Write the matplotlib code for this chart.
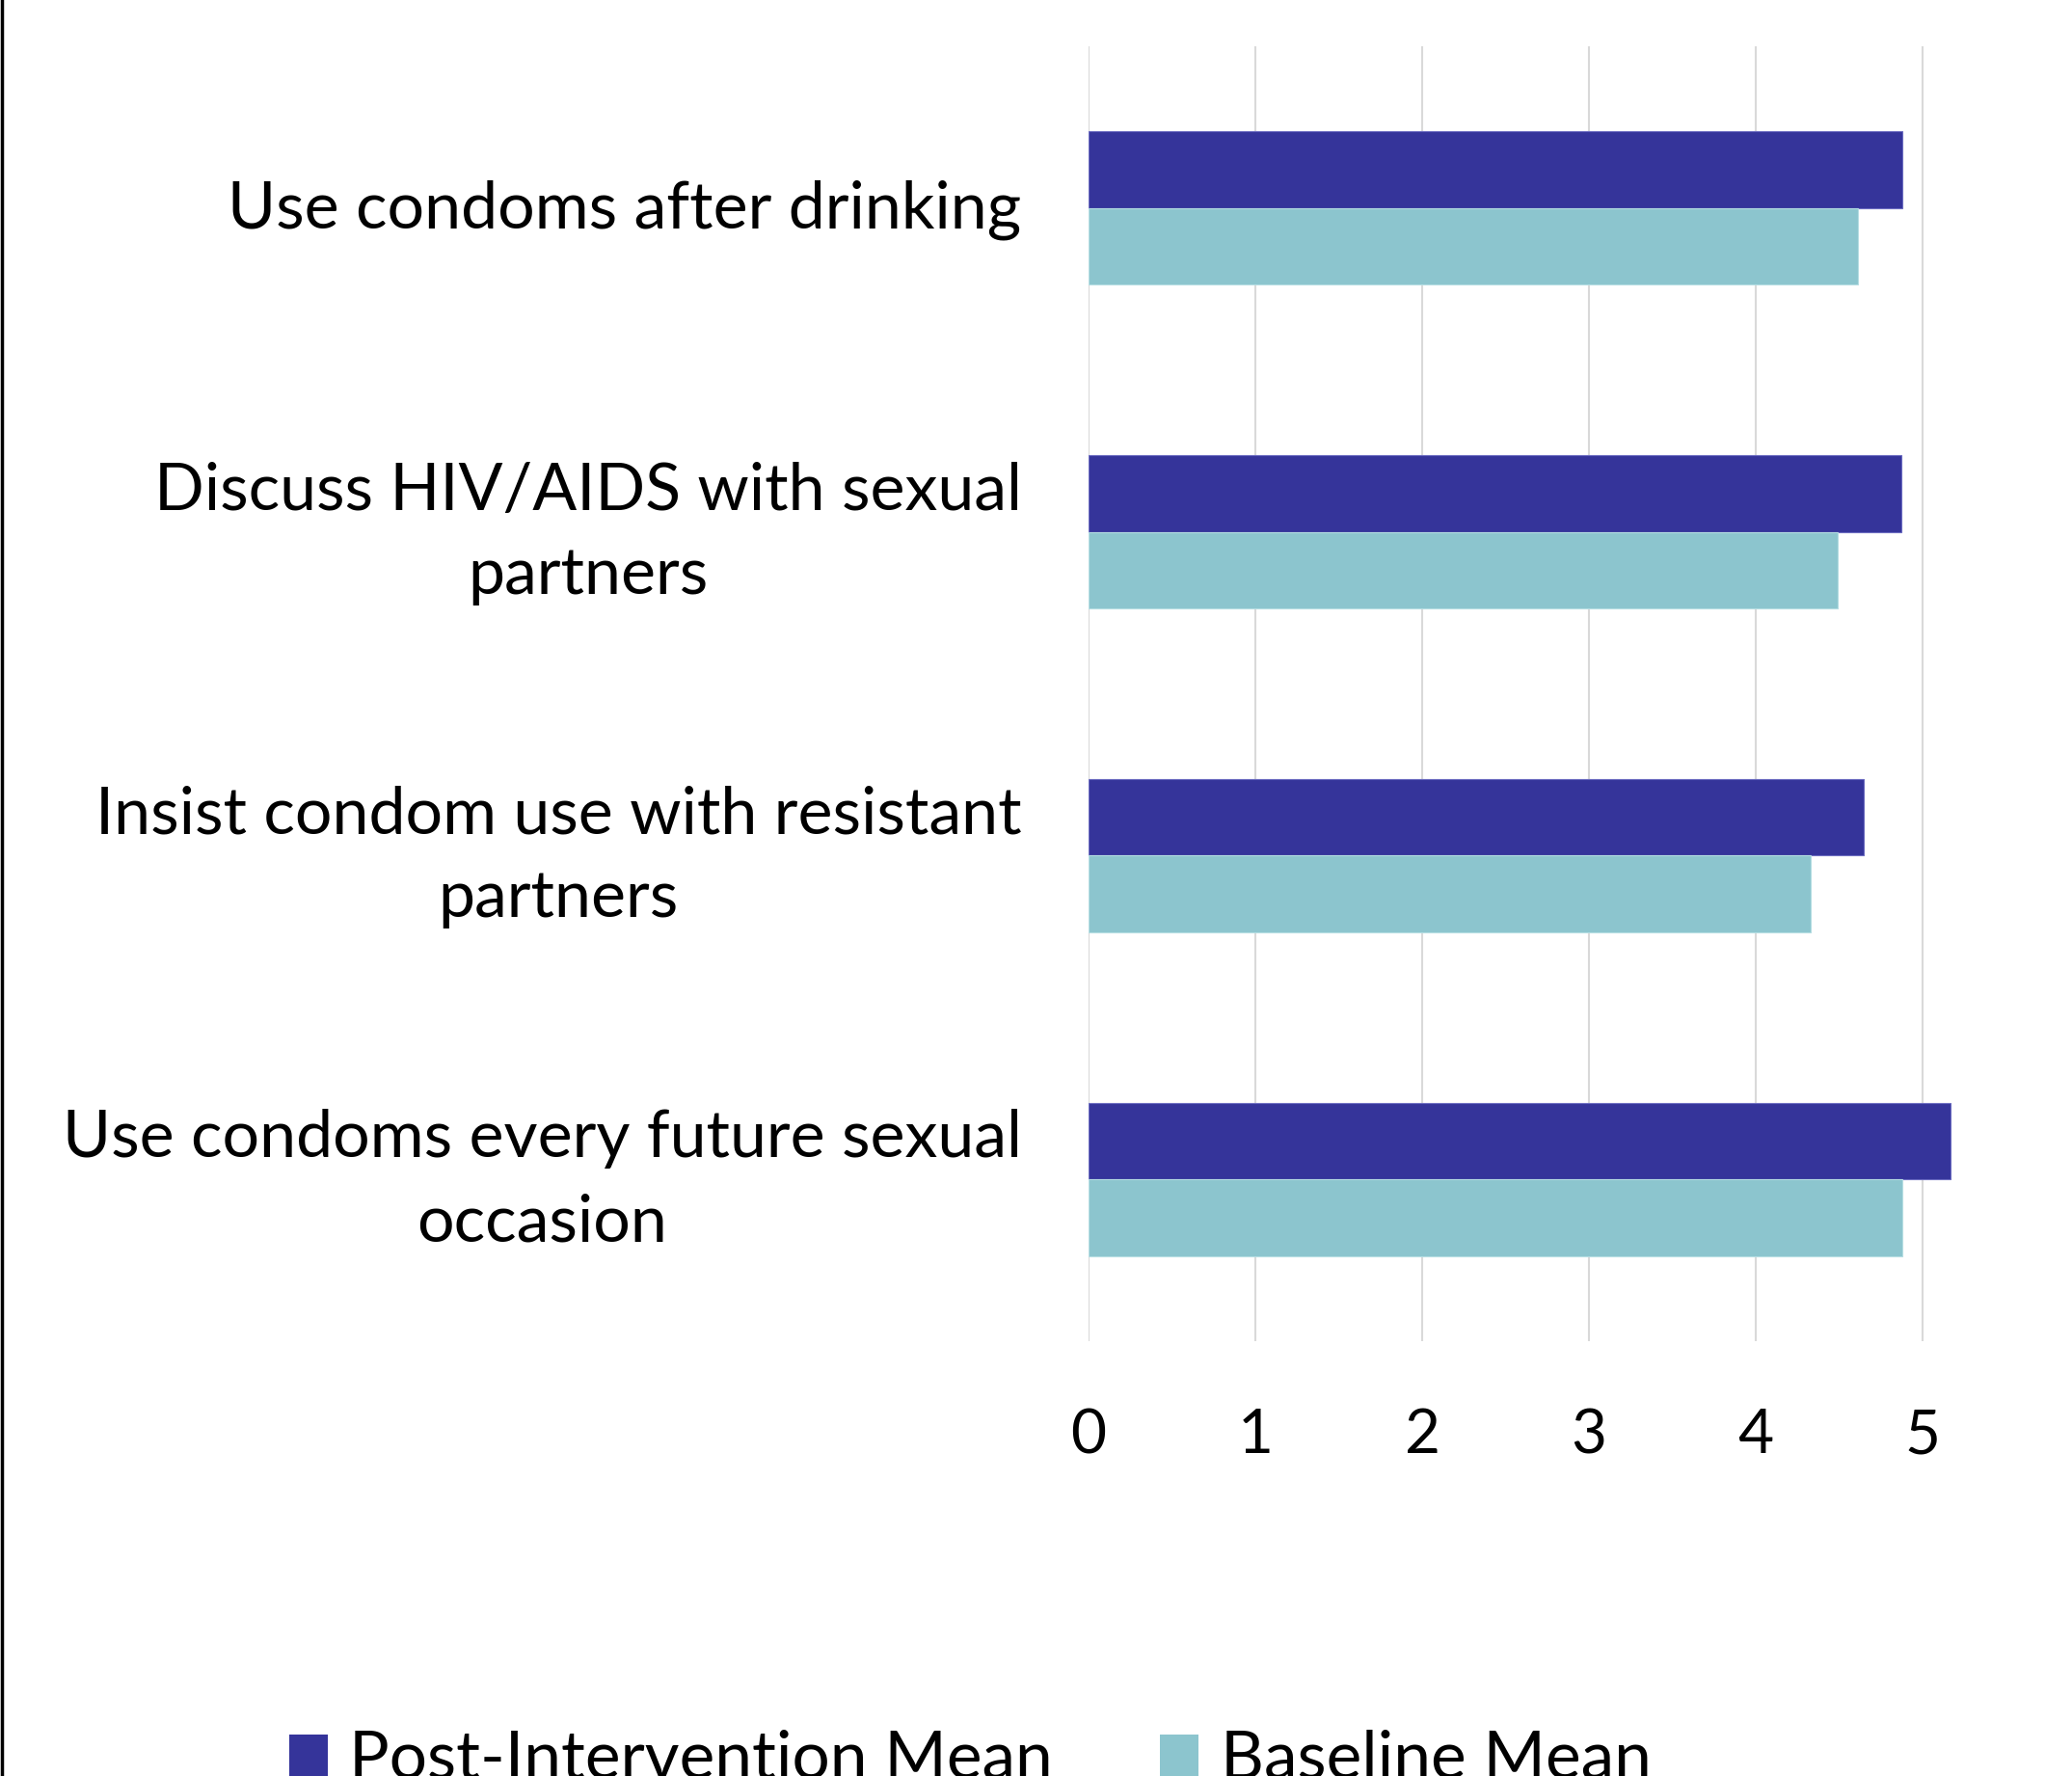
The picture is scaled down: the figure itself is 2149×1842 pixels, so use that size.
import matplotlib
matplotlib.use("Agg")
import matplotlib.pyplot as plt
from matplotlib.patches import Patch
from matplotlib.lines import Line2D
from matplotlib.transforms import ScaledTranslation
import numpy as np

categories = [
    "Use condoms after drinking",
    "Discuss HIV/AIDS with sexual\npartners",
    "Insist condom use with resistant\npartners",
    "Use condoms every future sexual\noccasion",
]
post_mean = [4.88, 4.87, 4.65, 5.17]
baseline_mean = [4.61, 4.49, 4.33, 4.88]
series_names = ["Post-Intervention Mean", "Baseline Mean"]
xticks = [0, 1, 2, 3, 4, 5]

POST_C = "#35349A"
BASE_C = "#8CC5CE"
FONT = "Lato"

W, H = 2149, 1842
fig = plt.figure(figsize=(W / 100, H / 100), dpi=100)
ax = fig.add_axes([1129 / W, 1 - 1391 / H, 1 - 1129 / W, (1391 - 48) / H])

y = np.arange(len(categories))
bh = 0.237
ax.barh(y - bh / 2, post_mean, height=bh, color=POST_C, edgecolor="#6B6BC0", linewidth=0.8, zorder=3)
ax.barh(y + bh / 2, baseline_mean, height=bh, color=BASE_C, edgecolor="#B5DDE2", linewidth=0.8, zorder=3)

ax.set_ylim(3.5, -0.5)
ax.set_xlim(0, (W - 1129) / 173)
ax.set_xticks(xticks)
ax.set_xticklabels([str(t) for t in xticks], fontsize=46, fontfamily=FONT)
ax.set_yticks(y)
ax.set_yticklabels(categories, fontsize=49, fontfamily=FONT, multialignment="center", linespacing=1.5)
ax.tick_params(axis="both", length=0)
ax.tick_params(axis="x", pad=50)
ax.tick_params(axis="y", pad=50)
ax.grid(axis="x", color="#D9D9D9", linewidth=1.5, zorder=0)
ax.set_axisbelow(True)
for s in ax.spines.values():
    s.set_visible(False)

# nudge multi-line labels so their block is centred on the bar group
for lab in ax.get_yticklabels():
    if "\n" in lab.get_text():
        lab.set_transform(lab.get_transform() + ScaledTranslation(0, 0.17, fig.dpi_scale_trans))
    else:
        lab.set_transform(lab.get_transform() + ScaledTranslation(0, 0.04, fig.dpi_scale_trans))

# left border line of the chart frame
fig.add_artist(Line2D([0.0007, 0.0007], [0, 1], transform=fig.transFigure, color="black", linewidth=2.5))

handles = [Patch(facecolor=POST_C, label=series_names[0]), Patch(facecolor=BASE_C, label=series_names[1])]
fig.legend(handles=handles, loc="upper left", bbox_to_anchor=(272 / W, 1 - 1766 / H), ncol=2,
           frameon=False, prop={"family": FONT, "size": 50}, handlelength=0.58, handleheight=0.58,
           handletextpad=0.32, columnspacing=1.6, borderaxespad=0)

fig.savefig("out.png", dpi=100, facecolor="white")
